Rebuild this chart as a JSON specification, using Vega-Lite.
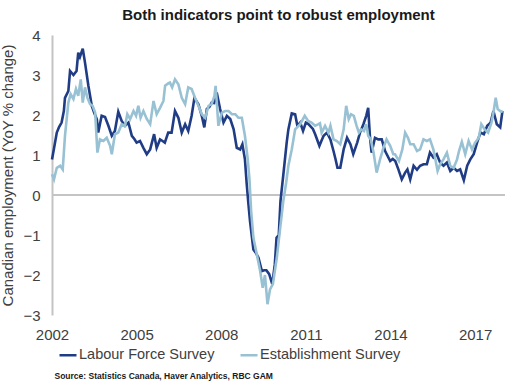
{
  "$schema": "https://vega.github.io/schema/vega-lite/v6.json",
  "width": 453,
  "height": 280,
  "autosize": "none",
  "padding": {"left": 52, "top": 35, "right": 23, "bottom": 69},
  "background": "white",
  "config": {"view": {"stroke": null}, "font": "Liberation Sans", "axisY": {"labelOverlap": false}},
  "title": {
    "text": "Both indicators point to robust employment",
    "font": "Liberation Sans",
    "fontSize": 15,
    "fontWeight": "bold",
    "color": "#1a1a1a",
    "anchor": "middle",
    "baseline": "alphabetic",
    "offset": -7
  },
  "datasets": {
    "lfs": [
      {"year": 2002.0, "value": 0.89}, {"year": 2002.08, "value": 1.2}, {"year": 2002.17, "value": 1.56}, {"year": 2002.25, "value": 1.7},
      {"year": 2002.34, "value": 1.81}, {"year": 2002.42, "value": 2.1}, {"year": 2002.46, "value": 2.43}, {"year": 2002.58, "value": 2.6},
      {"year": 2002.64, "value": 3.1}, {"year": 2002.76, "value": 3.0}, {"year": 2002.87, "value": 3.1}, {"year": 2002.93, "value": 3.56},
      {"year": 2002.99, "value": 3.45}, {"year": 2003.09, "value": 3.66}, {"year": 2003.17, "value": 3.31}, {"year": 2003.29, "value": 2.73},
      {"year": 2003.41, "value": 2.23}, {"year": 2003.5, "value": 2.05}, {"year": 2003.59, "value": 1.89}, {"year": 2003.64, "value": 1.56},
      {"year": 2003.76, "value": 1.98}, {"year": 2003.88, "value": 1.95}, {"year": 2004.0, "value": 1.73}, {"year": 2004.12, "value": 1.48},
      {"year": 2004.23, "value": 1.6}, {"year": 2004.35, "value": 2.08}, {"year": 2004.47, "value": 1.85}, {"year": 2004.59, "value": 1.73},
      {"year": 2004.71, "value": 1.81}, {"year": 2004.83, "value": 1.48}, {"year": 2004.92, "value": 1.4}, {"year": 2005.0, "value": 1.31},
      {"year": 2005.12, "value": 1.35}, {"year": 2005.24, "value": 1.18}, {"year": 2005.36, "value": 1.02}, {"year": 2005.48, "value": 1.14},
      {"year": 2005.62, "value": 1.52}, {"year": 2005.71, "value": 1.18}, {"year": 2005.83, "value": 1.39}, {"year": 2005.92, "value": 1.35},
      {"year": 2006.0, "value": 1.31}, {"year": 2006.12, "value": 1.56}, {"year": 2006.24, "value": 1.56}, {"year": 2006.36, "value": 2.1},
      {"year": 2006.48, "value": 1.93}, {"year": 2006.6, "value": 1.56}, {"year": 2006.72, "value": 1.77}, {"year": 2006.83, "value": 1.6},
      {"year": 2006.95, "value": 1.98}, {"year": 2007.05, "value": 2.43}, {"year": 2007.19, "value": 2.27}, {"year": 2007.31, "value": 1.98},
      {"year": 2007.4, "value": 1.69}, {"year": 2007.49, "value": 2.15}, {"year": 2007.58, "value": 2.2}, {"year": 2007.66, "value": 2.31},
      {"year": 2007.75, "value": 2.3}, {"year": 2007.84, "value": 2.56}, {"year": 2007.96, "value": 2.15}, {"year": 2008.08, "value": 1.81},
      {"year": 2008.2, "value": 1.98}, {"year": 2008.32, "value": 1.9}, {"year": 2008.44, "value": 1.64}, {"year": 2008.55, "value": 1.18},
      {"year": 2008.67, "value": 1.14}, {"year": 2008.75, "value": 1.27}, {"year": 2008.84, "value": 0.89}, {"year": 2008.9, "value": 0.3},
      {"year": 2008.96, "value": -0.2}, {"year": 2009.02, "value": -0.65}, {"year": 2009.14, "value": -1.36}, {"year": 2009.23, "value": -1.45},
      {"year": 2009.32, "value": -1.57}, {"year": 2009.44, "value": -1.9}, {"year": 2009.52, "value": -1.88}, {"year": 2009.6, "value": -1.88},
      {"year": 2009.7, "value": -1.98}, {"year": 2009.81, "value": -2.23}, {"year": 2009.9, "value": -1.73}, {"year": 2009.96, "value": -1.07},
      {"year": 2010.04, "value": -1.0}, {"year": 2010.1, "value": -0.15}, {"year": 2010.2, "value": 0.5}, {"year": 2010.32, "value": 1.31},
      {"year": 2010.38, "value": 1.64}, {"year": 2010.5, "value": 2.04}, {"year": 2010.62, "value": 2.02}, {"year": 2010.7, "value": 1.73},
      {"year": 2010.8, "value": 1.81}, {"year": 2010.9, "value": 1.6}, {"year": 2011.0, "value": 1.81}, {"year": 2011.08, "value": 1.78},
      {"year": 2011.15, "value": 1.73}, {"year": 2011.25, "value": 1.65}, {"year": 2011.33, "value": 1.52}, {"year": 2011.48, "value": 1.23},
      {"year": 2011.55, "value": 1.35}, {"year": 2011.63, "value": 1.48}, {"year": 2011.75, "value": 1.56}, {"year": 2011.87, "value": 1.39},
      {"year": 2011.98, "value": 1.1}, {"year": 2012.05, "value": 0.9}, {"year": 2012.12, "value": 0.68}, {"year": 2012.22, "value": 0.68},
      {"year": 2012.34, "value": 1.14}, {"year": 2012.46, "value": 1.43}, {"year": 2012.58, "value": 1.27}, {"year": 2012.68, "value": 1.02},
      {"year": 2012.82, "value": 1.31}, {"year": 2012.92, "value": 1.56}, {"year": 2013.04, "value": 1.77}, {"year": 2013.14, "value": 1.98},
      {"year": 2013.21, "value": 2.18}, {"year": 2013.27, "value": 1.48}, {"year": 2013.33, "value": 1.06}, {"year": 2013.45, "value": 1.43},
      {"year": 2013.57, "value": 1.39}, {"year": 2013.69, "value": 1.39}, {"year": 2013.81, "value": 1.1}, {"year": 2013.99, "value": 0.85},
      {"year": 2014.08, "value": 0.9}, {"year": 2014.17, "value": 0.85}, {"year": 2014.28, "value": 0.64}, {"year": 2014.4, "value": 0.39},
      {"year": 2014.52, "value": 0.56}, {"year": 2014.6, "value": 0.64}, {"year": 2014.7, "value": 0.39}, {"year": 2014.82, "value": 0.73},
      {"year": 2014.94, "value": 0.63}, {"year": 2015.05, "value": 0.73}, {"year": 2015.17, "value": 0.77}, {"year": 2015.29, "value": 0.77},
      {"year": 2015.4, "value": 1.06}, {"year": 2015.52, "value": 0.94}, {"year": 2015.64, "value": 1.02}, {"year": 2015.76, "value": 0.81},
      {"year": 2015.88, "value": 0.73}, {"year": 2016.0, "value": 0.81}, {"year": 2016.12, "value": 0.6}, {"year": 2016.24, "value": 0.68},
      {"year": 2016.36, "value": 0.6}, {"year": 2016.47, "value": 0.64}, {"year": 2016.6, "value": 0.37}, {"year": 2016.72, "value": 0.73},
      {"year": 2016.83, "value": 0.89}, {"year": 2016.95, "value": 1.02}, {"year": 2017.07, "value": 1.31}, {"year": 2017.19, "value": 1.56},
      {"year": 2017.31, "value": 1.52}, {"year": 2017.43, "value": 1.73}, {"year": 2017.55, "value": 1.81}, {"year": 2017.65, "value": 2.1},
      {"year": 2017.77, "value": 1.77}, {"year": 2017.89, "value": 1.69}, {"year": 2017.97, "value": 2.1}
    ],
    "es": [
      {"year": 2002.0, "value": 0.52}, {"year": 2002.07, "value": 0.39}, {"year": 2002.17, "value": 0.68}, {"year": 2002.29, "value": 0.73},
      {"year": 2002.38, "value": 0.64}, {"year": 2002.46, "value": 1.48}, {"year": 2002.58, "value": 2.31}, {"year": 2002.66, "value": 2.52},
      {"year": 2002.76, "value": 2.4}, {"year": 2002.85, "value": 2.65}, {"year": 2002.93, "value": 2.48}, {"year": 2003.02, "value": 2.89},
      {"year": 2003.09, "value": 2.31}, {"year": 2003.17, "value": 2.69}, {"year": 2003.25, "value": 2.44}, {"year": 2003.35, "value": 2.27},
      {"year": 2003.44, "value": 2.23}, {"year": 2003.53, "value": 2.06}, {"year": 2003.61, "value": 1.06}, {"year": 2003.7, "value": 1.39},
      {"year": 2003.82, "value": 1.35}, {"year": 2003.94, "value": 1.43}, {"year": 2004.06, "value": 1.23}, {"year": 2004.12, "value": 1.02},
      {"year": 2004.23, "value": 1.52}, {"year": 2004.35, "value": 1.56}, {"year": 2004.47, "value": 1.77}, {"year": 2004.59, "value": 1.73},
      {"year": 2004.67, "value": 2.02}, {"year": 2004.77, "value": 1.9}, {"year": 2004.89, "value": 2.1}, {"year": 2004.98, "value": 1.98},
      {"year": 2005.06, "value": 2.23}, {"year": 2005.14, "value": 1.93}, {"year": 2005.24, "value": 2.1}, {"year": 2005.36, "value": 1.9},
      {"year": 2005.48, "value": 1.77}, {"year": 2005.6, "value": 2.35}, {"year": 2005.71, "value": 2.02}, {"year": 2005.83, "value": 2.18},
      {"year": 2005.95, "value": 2.35}, {"year": 2006.01, "value": 2.73}, {"year": 2006.12, "value": 2.79}, {"year": 2006.18, "value": 2.81},
      {"year": 2006.26, "value": 2.69}, {"year": 2006.36, "value": 2.89}, {"year": 2006.48, "value": 2.77}, {"year": 2006.6, "value": 2.43},
      {"year": 2006.72, "value": 2.27}, {"year": 2006.83, "value": 2.69}, {"year": 2006.95, "value": 2.65}, {"year": 2007.07, "value": 2.43},
      {"year": 2007.19, "value": 2.23}, {"year": 2007.31, "value": 2.02}, {"year": 2007.43, "value": 1.93}, {"year": 2007.55, "value": 2.23},
      {"year": 2007.66, "value": 2.27}, {"year": 2007.76, "value": 2.48}, {"year": 2007.8, "value": 2.73}, {"year": 2007.9, "value": 1.73},
      {"year": 2008.02, "value": 2.06}, {"year": 2008.14, "value": 2.1}, {"year": 2008.26, "value": 2.1}, {"year": 2008.38, "value": 2.02},
      {"year": 2008.5, "value": 2.02}, {"year": 2008.61, "value": 1.93}, {"year": 2008.73, "value": 1.93}, {"year": 2008.84, "value": 1.48},
      {"year": 2008.94, "value": 0.89}, {"year": 2009.0, "value": 0.4}, {"year": 2009.06, "value": -0.4}, {"year": 2009.14, "value": -1.07},
      {"year": 2009.26, "value": -1.48}, {"year": 2009.38, "value": -1.9}, {"year": 2009.47, "value": -2.32}, {"year": 2009.55, "value": -2.0},
      {"year": 2009.64, "value": -2.73}, {"year": 2009.73, "value": -2.36}, {"year": 2009.83, "value": -2.23}, {"year": 2009.97, "value": -1.57},
      {"year": 2010.09, "value": -0.82}, {"year": 2010.2, "value": -0.15}, {"year": 2010.3, "value": 0.3}, {"year": 2010.38, "value": 0.73},
      {"year": 2010.5, "value": 1.14}, {"year": 2010.62, "value": 1.64}, {"year": 2010.8, "value": 1.77}, {"year": 2010.96, "value": 1.98},
      {"year": 2011.08, "value": 1.85}, {"year": 2011.2, "value": 1.81}, {"year": 2011.33, "value": 1.73}, {"year": 2011.45, "value": 1.77},
      {"year": 2011.5, "value": 1.79}, {"year": 2011.56, "value": 1.56}, {"year": 2011.68, "value": 1.73}, {"year": 2011.8, "value": 1.56},
      {"year": 2011.87, "value": 1.73}, {"year": 2011.98, "value": 1.39}, {"year": 2012.1, "value": 1.35}, {"year": 2012.22, "value": 1.27},
      {"year": 2012.34, "value": 1.64}, {"year": 2012.43, "value": 2.23}, {"year": 2012.52, "value": 1.9}, {"year": 2012.6, "value": 2.02},
      {"year": 2012.7, "value": 1.98}, {"year": 2012.8, "value": 1.73}, {"year": 2012.88, "value": 1.56}, {"year": 2012.96, "value": 1.64},
      {"year": 2013.06, "value": 1.6}, {"year": 2013.14, "value": 1.77}, {"year": 2013.21, "value": 1.48}, {"year": 2013.3, "value": 1.39},
      {"year": 2013.4, "value": 1.06}, {"year": 2013.51, "value": 0.56}, {"year": 2013.63, "value": 0.89}, {"year": 2013.75, "value": 1.18},
      {"year": 2013.86, "value": 1.39}, {"year": 2013.99, "value": 1.23}, {"year": 2014.1, "value": 1.02}, {"year": 2014.16, "value": 1.02},
      {"year": 2014.3, "value": 0.85}, {"year": 2014.42, "value": 1.14}, {"year": 2014.52, "value": 1.56}, {"year": 2014.62, "value": 1.43},
      {"year": 2014.7, "value": 1.27}, {"year": 2014.82, "value": 1.27}, {"year": 2014.94, "value": 1.1}, {"year": 2015.05, "value": 1.14},
      {"year": 2015.17, "value": 1.39}, {"year": 2015.29, "value": 1.35}, {"year": 2015.4, "value": 1.39}, {"year": 2015.52, "value": 1.14},
      {"year": 2015.58, "value": 0.94}, {"year": 2015.67, "value": 0.6}, {"year": 2015.76, "value": 0.77}, {"year": 2015.88, "value": 0.89},
      {"year": 2016.0, "value": 1.06}, {"year": 2016.12, "value": 0.73}, {"year": 2016.24, "value": 0.68}, {"year": 2016.36, "value": 0.89},
      {"year": 2016.43, "value": 1.1}, {"year": 2016.53, "value": 1.33}, {"year": 2016.65, "value": 1.02}, {"year": 2016.77, "value": 1.35},
      {"year": 2016.89, "value": 1.14}, {"year": 2017.0, "value": 1.31}, {"year": 2017.13, "value": 1.43}, {"year": 2017.22, "value": 1.77},
      {"year": 2017.34, "value": 1.64}, {"year": 2017.46, "value": 1.56}, {"year": 2017.58, "value": 1.81}, {"year": 2017.66, "value": 2.1},
      {"year": 2017.73, "value": 2.43}, {"year": 2017.8, "value": 2.15}, {"year": 2017.92, "value": 2.08}, {"year": 2017.98, "value": 2.1}
    ],
    "zero": [{"value": 0}]
  },
  "encoding": {
    "y": {
      "field": "value", "type": "quantitative",
      "scale": {"domain": [-3, 4], "nice": false, "zero": false},
      "axis": {
        "title": "Canadian employment (YoY % change)",
        "values": [-3, -2, -1, 0, 1, 2, 3, 4],
        "grid": false, "ticks": false, "tickSize": 0,
        "labelOverlap": false, "labelFlush": false,
        "domainColor": "#c4c4c4", "domainWidth": 2,
        "labelFontSize": 15, "labelColor": "#404040", "labelPadding": 12,
        "labelFont": "Liberation Sans",
        "titleFont": "Liberation Sans", "titleFontSize": 15, "titleFontWeight": "normal",
        "titleColor": "#404040", "titlePadding": 7
      }
    }
  },
  "layer": [
    {
      "data": {"name": "zero"},
      "mark": {"type": "rule", "color": "#c4c4c4", "strokeWidth": 2},
      "encoding": {}
    },
    {
      "data": {"name": "lfs"},
      "mark": {"type": "line", "strokeWidth": 2.6, "interpolate": "linear"},
      "encoding": {
        "x": {
          "field": "year", "type": "quantitative",
          "scale": {"domain": [2002, 2018.06], "nice": false, "zero": false},
          "axis": {
            "title": "Source: Statistics Canada, Haver Analytics, RBC GAM",
            "values": [2002, 2005, 2008, 2011, 2014, 2017],
            "format": "d",
            "grid": false, "ticks": false, "tickSize": 0, "domain": false,
            "labelFlush": false, "labelOverlap": false,
            "labelFontSize": 15, "labelColor": "#404040", "labelPadding": 12,
            "labelFont": "Liberation Sans",
            "titleFont": "Liberation Sans", "titleFontSize": 8.5, "titleFontWeight": "bold",
            "titleColor": "#1a1a1a", "titleAnchor": "start", "titleAlign": "left",
            "titleBaseline": "alphabetic", "titleX": 2, "titleY": 63
          }
        },
        "color": {
          "datum": "Labour Force Survey", "type": "nominal",
          "scale": {"domain": ["Labour Force Survey", "Establishment Survey"], "range": ["#1F3C85", "#98C1D4"]},
          "legend": {
            "title": null, "orient": "none", "direction": "horizontal",
            "legendX": 6, "legendY": 310,
            "symbolType": "stroke", "symbolSize": 289, "symbolStrokeWidth": 2.5,
            "labelFontSize": 14.5, "labelFont": "Liberation Sans", "labelColor": "#404040",
            "labelOffset": 1, "columnPadding": 20
          }
        }
      }
    },
    {
      "data": {"name": "es"},
      "mark": {"type": "line", "strokeWidth": 2.6, "interpolate": "linear"},
      "encoding": {
        "x": {"field": "year", "type": "quantitative"},
        "color": {"datum": "Establishment Survey", "type": "nominal"}
      }
    }
  ]
}
